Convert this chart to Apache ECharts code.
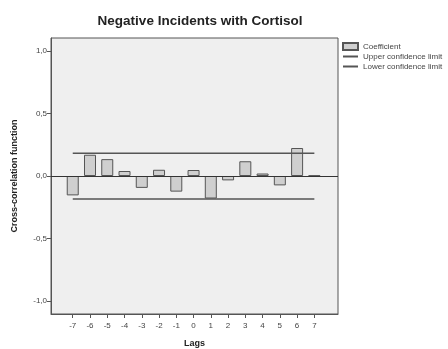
<!DOCTYPE html>
<html>
<head>
    <meta charset="utf-8">
    <title>Negative Incidents with Cortisol</title>
    <script src="https://cdn.jsdelivr.net/npm/echarts@6/dist/echarts.min.js"></script>
    <style>
        html, body { margin: 0; padding: 0; background: #fff; }
        #chart1 { width: 448px; height: 349px; }
    </style>
</head>
<body>
<div id="chart1"></div>
<script type="text/javascript">
    // lags and cross-correlation coefficients
    var lags = [-7, -6, -5, -4, -3, -2, -1, 0, 1, 2, 3, 4, 5, 6, 7];
    var coefficients = [-0.155, 0.17, 0.135, 0.04, -0.095, 0.05, -0.125, 0.048, -0.18, -0.035, 0.118, 0.02, -0.075, 0.224, 0.004];
    var upperLimit = 0.183;
    var lowerLimit = -0.183;
    var yTicks = [-1, -0.5, 0, 0.5, 1];

    var myChart = echarts.init(document.getElementById('chart1'));

    var barData = lags.map(function (l, i) { return [l, coefficients[i]]; });
    var upperData = [[lags[0], upperLimit], [lags[lags.length - 1], upperLimit]];
    var lowerData = [[lags[0], lowerLimit], [lags[lags.length - 1], lowerLimit]];

    var option = {
        animation: false,
        title: {
            text: 'Negative Incidents with Cortisol',
            left: 195,
            top: 9,
            textAlign: 'center',
            textStyle: { fontFamily: 'Liberation Sans', fontSize: 13.5, fontWeight: 'bold', color: '#222' }
        },
        legend: {
            orient: 'vertical',
            left: 337,
            top: 37,
            itemWidth: 15,
            itemHeight: 7,
            itemGap: 1,
            textStyle: { fontFamily: 'Liberation Sans', fontSize: 8, lineHeight: 9, color: '#444' },
            data: [
                { name: 'Coefficient', icon: 'rect' },
                { name: 'Upper confidence limit', itemStyle: { opacity: 0 } },
                { name: 'Lower confidence limit', itemStyle: { opacity: 0 } }
            ]
        },
        grid: {
            left: 51,
            top: 38,
            width: 287,
            height: 276,
            containLabel: false,
            outerBoundsMode: 'none',
            show: true,
            backgroundColor: '#efefef',
            borderColor: '#555',
            borderWidth: 1
        },
        xAxis: {
            type: 'value',
            min: -8.26,
            max: 8.37,
            name: 'Lags',
            nameLocation: 'middle',
            nameGap: 25,
            nameTextStyle: { fontFamily: 'Liberation Sans', fontSize: 9, fontWeight: 'bold', color: '#222' },
            splitLine: { show: false },
            axisLine: { onZero: false, lineStyle: { color: '#555' } },
            axisTick: { length: 4, lineStyle: { color: '#555' }, customValues: lags },
            axisLabel: { fontFamily: 'Liberation Sans', fontSize: 8, color: '#444', margin: 8, customValues: lags }
        },
        yAxis: {
            type: 'value',
            min: -1.104,
            max: 1.104,
            name: 'Cross-correlation function',
            nameLocation: 'middle',
            nameGap: 32,
            nameTextStyle: { fontFamily: 'Liberation Sans', fontSize: 9, fontWeight: 'bold', color: '#222' },
            splitLine: { show: false },
            axisLine: { show: true, onZero: false, lineStyle: { color: '#555' } },
            axisTick: { show: true, length: 4, lineStyle: { color: '#555' }, customValues: yTicks },
            axisLabel: {
                fontFamily: 'Liberation Sans', fontSize: 8, color: '#444', margin: 4,
                customValues: yTicks,
                formatter: function (v) { return v.toFixed(1).replace('.', ','); }
            }
        },
        series: [{
            name: 'Coefficient',
            type: 'bar',
            barWidth: 12,
            data: barData,
            itemStyle: { color: '#cfcfcf', borderColor: '#555', borderWidth: 1 },
            markLine: {
                silent: true,
                symbol: 'none',
                label: { show: false },
                lineStyle: { color: '#333', width: 1, type: 'solid' },
                data: [{ yAxis: 0 }]
            }
        }, {
            name: 'Upper confidence limit',
            type: 'line',
            symbol: 'none',
            data: upperData,
            lineStyle: { color: '#555', width: 1.5 },
            itemStyle: { color: '#555' }
        }, {
            name: 'Lower confidence limit',
            type: 'line',
            symbol: 'none',
            data: lowerData,
            lineStyle: { color: '#555', width: 1.5 },
            itemStyle: { color: '#555' }
        }]
    };
    myChart.setOption(option);
</script>
</body>
</html>
